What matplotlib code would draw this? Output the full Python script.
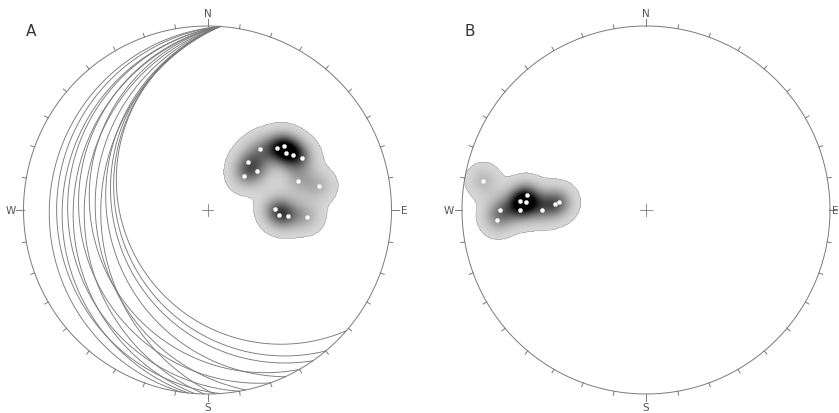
import numpy as np
import matplotlib
matplotlib.use("Agg")
import matplotlib.pyplot as plt
from matplotlib.colors import LinearSegmentedColormap

# poles, lower hemisphere (trend, plunge in degrees)
a_trend = [41, 48, 50, 54, 57, 61, 40, 52, 47, 72, 78, 89, 94, 94, 94]
a_plunge = [54, 48, 45, 46, 44, 41, 62, 62, 68, 47, 38, 60, 58, 54, 45]
b_trend = [280, 277, 274, 274, 274, 275, 270, 270, 270, 266]
b_plunge = [11, 35, 32, 35, 49, 51, 22, 32, 43, 20]

# arcs of panel A: common top azimuth, bottom azimuth, crossing of the E-W line
arc_top = 4
arc_end = [188, 176, 186, 170, 184, 160, 181, 150, 168, 178, 155, 145, 140, 131]
arc_west = [-0.86, -0.82, -0.79, -0.76, -0.73, -0.70, -0.67, -0.64, -0.61,
            -0.58, -0.55, -0.52, -0.50, -0.48]

panels = ["A", "B"]
cardinals = ["N", "E", "S", "W"]

LINE = "#7a7a7a"
R_PX = 184
L = 1.13


def project(trend, plunge):
    # equal area, lower hemisphere
    t = np.radians(trend)
    p = np.radians(plunge)
    r = np.sqrt(2) * np.sin((np.pi / 2 - p) / 2)
    return r * np.sin(t), r * np.cos(t)


def circle_3pts(p1, p2, p3):
    ax_, ay_ = p1
    bx, by = p2
    cx, cy = p3
    d = 2 * (ax_ * (by - cy) + bx * (cy - ay_) + cx * (ay_ - by))
    ux = ((ax_**2 + ay_**2) * (by - cy) + (bx**2 + by**2) * (cy - ay_) + (cx**2 + cy**2) * (ay_ - by)) / d
    uy = ((ax_**2 + ay_**2) * (cx - bx) + (bx**2 + by**2) * (ax_ - cx) + (cx**2 + cy**2) * (bx - ax_)) / d
    return ux, uy, np.hypot(ax_ - ux, ay_ - uy)


def draw_arc(ax, az1, az2, xw):
    p1 = (np.sin(np.radians(az1)), np.cos(np.radians(az1)))
    p2 = (np.sin(np.radians(az2)), np.cos(np.radians(az2)))
    pw = (xw, 0.0)
    ux, uy, r = circle_3pts(p1, p2, pw)
    a1 = np.arctan2(p1[1] - uy, p1[0] - ux)
    a2 = np.arctan2(p2[1] - uy, p2[0] - ux)
    aw = np.arctan2(pw[1] - uy, pw[0] - ux)
    # go from a1 to a2 passing through aw
    d2 = (a2 - a1) % (2 * np.pi)
    dw = (aw - a1) % (2 * np.pi)
    if dw > d2:
        d2 = d2 - 2 * np.pi
    ang = a1 + np.linspace(0, d2, 300)
    ax.plot(ux + r * np.cos(ang), uy + r * np.sin(ang), color=LINE, lw=0.65)


def draw_density(ax, xs, ys, sigma=0.062, thr=0.26, top=3.2):
    g = np.linspace(-1, 1, 500)
    xx, yy = np.meshgrid(g, g)
    dens = np.zeros_like(xx)
    for x, y in zip(xs, ys):
        dens += np.exp(-((xx - x) ** 2 + (yy - y) ** 2) / (2 * sigma ** 2))
    u = np.clip((dens - thr) / (top - thr), 0, 1)
    shade = 1 - u ** 1.5
    shade = np.ma.masked_where((dens < thr) | (xx ** 2 + yy ** 2 > 1), shade)
    cmap = LinearSegmentedColormap.from_list("g", ["#000000", "#d6d6d6"])
    ax.imshow(shade, extent=(-1, 1, -1, 1), origin="lower", cmap=cmap,
              vmin=0, vmax=1, interpolation="bilinear", zorder=1)


def draw_net(ax, label, e_pos=1.07, e_ha="center"):
    t = np.linspace(0, 2 * np.pi, 400)
    ax.plot(np.cos(t), np.sin(t), color=LINE, lw=0.7, zorder=3)
    for az in range(0, 360, 10):
        a = np.radians(az)
        r2 = 1.04 if az % 90 == 0 else 1.022
        ax.plot([np.sin(a), r2 * np.sin(a)], [np.cos(a), r2 * np.cos(a)],
                color=LINE, lw=0.7, zorder=3)
    for name, az in zip(cardinals, [0, 90, 180, 270]):
        a = np.radians(az)
        pos = e_pos if name == "E" else 1.07
        ax.text(pos * np.sin(a), pos * np.cos(a) - 0.005, name, fontsize=7.5,
                color="#555555", ha=e_ha if name == "E" else "center", va="center")
    c = 0.03
    ax.plot([-c, c], [0, 0], color=LINE, lw=0.6, zorder=3)
    ax.plot([0, 0], [-c, c], color=LINE, lw=0.6, zorder=3)
    ax.text(-0.96, 0.97, label, fontsize=11, color="#333333",
            ha="center", va="center")


fig = plt.figure(figsize=(8.39, 4.13), dpi=100)
centers = [(207.5, 210), (646, 210)]
axes = []
for (cx, cy), label in zip(centers, panels):
    half = R_PX * L
    ax = fig.add_axes([(cx - half) / 839, (413 - cy - half) / 413,
                       2 * half / 839, 2 * half / 413])
    ax.set_xlim(-L, L)
    ax.set_ylim(-L, L)
    ax.set_aspect("equal")
    ax.axis("off")
    axes.append(ax)

ax_a, ax_b = axes

# panel A
for end, xw in zip(arc_end, arc_west):
    draw_arc(ax_a, arc_top, end, xw)
xa, ya = project(np.array(a_trend), np.array(a_plunge))
draw_density(ax_a, xa, ya)
ax_a.plot(xa, ya, "o", ms=3, mfc="white", mec="#e0e0e0", mew=0.3, zorder=4)
draw_net(ax_a, "A")

# panel B (E label pushed against the right edge, as in the reference)
xb, yb = project(np.array(b_trend), np.array(b_plunge))
draw_density(ax_b, xb, yb)
ax_b.plot(xb, yb, "o", ms=3, mfc="white", mec="#e0e0e0", mew=0.3, zorder=4)
draw_net(ax_b, "B", e_pos=1.045, e_ha="right")

fig.savefig("out.png", dpi=100)
